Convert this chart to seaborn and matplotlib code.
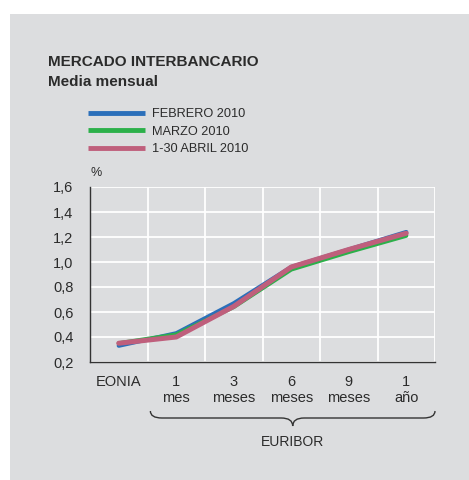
import numpy as np
import pandas as pd
import seaborn as sns
import matplotlib.pyplot as plt
from matplotlib.path import Path
from matplotlib.patches import PathPatch, Rectangle
from matplotlib.transforms import blended_transform_factory

# data
categories = ['EONIA', '1 mes', '3 meses', '6 meses', '9 meses', '1 año']
tick_labels = ['EONIA', '1\nmes', '3\nmeses', '6\nmeses', '9\nmeses', '1\naño']
feb_2010 = [0.33, 0.43, 0.67, 0.96, 1.10, 1.24]
mar_2010 = [0.35, 0.42, 0.64, 0.94, 1.08, 1.21]
abr_2010 = [0.35, 0.40, 0.645, 0.96, 1.10, 1.23]
series_names = ['FEBRERO 2010', 'MARZO 2010', '1-30 ABRIL 2010']
colors = ['#2b6fba', '#2cb04a', '#bf5f7c']
yticks = [0.2, 0.4, 0.6, 0.8, 1.0, 1.2, 1.4, 1.6]

BG = '#dcdddf'
TXT = '#2b2b2b'

sns.set_style('white')
plt.rcParams['font.family'] = ['Liberation Sans', 'DejaVu Sans']

df = pd.DataFrame({
    'plazo': categories * 3,
    'tipo': feb_2010 + mar_2010 + abr_2010,
    'serie': np.repeat(series_names, len(categories)),
})

fig = plt.figure(figsize=(4.69, 4.80), dpi=100)
fig.patch.set_facecolor('white')
fig.patches.append(Rectangle((10 / 469, 0), 1, 1 - 14 / 480, transform=fig.transFigure,
                             facecolor=BG, edgecolor='none', zorder=-10))

ax = fig.add_axes([90 / 469, 1 - 362 / 480, 345 / 469, 175 / 480])
ax.set_facecolor(BG)

sns.lineplot(data=df, x='plazo', y='tipo', hue='serie', palette=colors,
             hue_order=series_names, sort=False, ax=ax, legend=False)
for line, lw in zip(ax.lines, [3.0, 3.0, 3.6]):
    line.set_linewidth(lw)
    line.set_solid_joinstyle('round')

ax.set_xlim(-0.5, len(categories) - 0.5)
ax.set_ylim(0.2, 1.6)
ax.set_yticks(yticks)
ax.set_yticklabels([f'{v:.1f}'.replace('.', ',') for v in yticks])
ax.set_xticks(range(len(categories)))
ax.set_xticklabels(tick_labels, va='top', linespacing=1.25)
ax.set_xticks(np.arange(0.5, len(categories)), minor=True)
ax.set_yticks(yticks, minor=True)
ax.grid(False)
ax.grid(which='minor', axis='x', color='white', lw=1.3)
ax.grid(which='major', axis='y', color='white', lw=1.3)
ax.set_axisbelow(True)
ax.tick_params(axis='both', which='both', length=0, labelsize=10.5, colors=TXT)
ax.tick_params(axis='y', pad=12)
ax.tick_params(axis='x', pad=9)
ax.set_xlabel('')
ax.set_ylabel('')
for s in ['top', 'right']:
    ax.spines[s].set_visible(False)
for s in ['left', 'bottom']:
    ax.spines[s].set_color('#333333')
    ax.spines[s].set_linewidth(1.0)

# titles
fig.text(48 / 469, 1 - 62 / 480, 'MERCADO INTERBANCARIO', fontsize=11, fontweight='bold',
         color=TXT, va='center')
fig.text(48 / 469, 1 - 82 / 480, 'Media mensual', fontsize=11, fontweight='bold',
         color=TXT, va='center')
fig.text(90 / 469, 1 - 173 / 480, '%', fontsize=9, color=TXT, va='center')

# legend
handles = [plt.Line2D([], [], color=c, lw=3.5, solid_capstyle='butt') for c in colors]
fig.legend(handles, series_names, loc='upper left',
           bbox_to_anchor=(82 / 469, 1 - 102 / 480), bbox_transform=fig.transFigure,
           frameon=False, fontsize=9.2, handlelength=4.4, handletextpad=0.6,
           labelspacing=0.42, borderpad=0, labelcolor=TXT)

# brace under the EURIBOR terms
tr = blended_transform_factory(ax.transData, fig.transFigure)
x0, x1 = 0.55, len(categories) - 0.5
xm = (x0 + x1) / 2
ytop, ymid, ybot = 1 - 411 / 480, 1 - 418 / 480, 1 - 426 / 480
q = 0.2
verts = [(x0, ytop), (x0, ymid), (x0 + q, ymid),
         (xm - q, ymid), (xm, ymid), (xm, ybot),
         (xm, ymid), (xm + q, ymid),
         (x1 - q, ymid), (x1, ymid), (x1, ytop)]
codes = [Path.MOVETO, Path.CURVE3, Path.CURVE3,
         Path.LINETO, Path.CURVE3, Path.CURVE3,
         Path.CURVE3, Path.CURVE3,
         Path.LINETO, Path.CURVE3, Path.CURVE3]
fig.patches.append(PathPatch(Path(verts, codes), transform=tr, facecolor='none',
                             edgecolor='#333333', lw=1.0))
fig.text(xm, 1 - 442 / 480, 'EURIBOR', transform=tr, fontsize=10, color=TXT,
         ha='center', va='center')

fig.savefig('out.png', dpi=100, facecolor=fig.get_facecolor())
